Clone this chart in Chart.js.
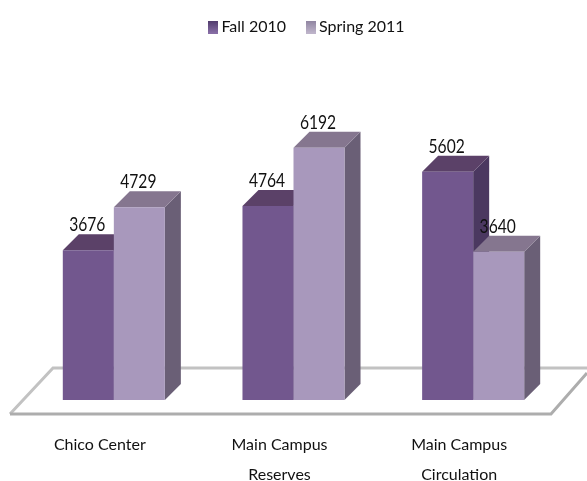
<!DOCTYPE html>
<html>
<head>
<meta charset="utf-8">
<style>
  html, body { margin: 0; padding: 0; background: #fff; }
  #wrap { width: 587px; height: 481px; }
</style>
<script src="https://cdn.jsdelivr.net/npm/chart.js@4"></script>
</head>
<body>
<div id="wrap"><canvas id="chart" width="587" height="481"></canvas></div>
<script>
const categories = [['Chico Center'], ['Main Campus', 'Reserves'], ['Main Campus', 'Circulation']];
const fall2010 = [3676, 4764, 5602];
const spring2011 = [4729, 6192, 3640];

const fontName = 'Lato, sans-serif';
const depth = 16;

// little gradient squares for the legend
function swatch(top, bottom) {
    const c = document.createElement('canvas');
    c.width = 10;
    c.height = 13;
    const g = c.getContext('2d');
    const grad = g.createLinearGradient(0, 0, 0, 13);
    grad.addColorStop(0, top);
    grad.addColorStop(1, bottom);
    g.fillStyle = grad;
    g.fillRect(0, 0, 10, 13);
    return c;
}

function face(ctx, pts, color) {
    ctx.fillStyle = color;
    ctx.beginPath();
    pts.forEach((p, i) => i ? ctx.lineTo(p[0], p[1]) : ctx.moveTo(p[0], p[1]));
    ctx.closePath();
    ctx.fill();
}

// floor and the side/top faces of the bars go under the front faces
const fake3d = {
    id: 'fake3d',
    afterLayout(chart) {
        // legend sits a bit right of centre and high up in the original
        chart.legend.left += 15;
        chart.legend.right += 15;
        chart.legend.top -= 5;
    },
    beforeDatasetsDraw(chart) {
        const ctx = chart.ctx;
        const base = chart.scales.y.getPixelForValue(0);
        const w = chart.width;
        ctx.save();
        ctx.lineWidth = 3;
        ctx.strokeStyle = '#c2c2c2';
        ctx.beginPath();
        ctx.moveTo(w, base - 32);
        ctx.lineTo(53, base - 32);
        ctx.lineTo(10, base + 14);
        ctx.stroke();
        ctx.strokeStyle = '#adadad';
        ctx.beginPath();
        ctx.moveTo(10, base + 14);
        ctx.lineTo(551, base + 14);
        ctx.lineTo(w, base - 27);
        ctx.stroke();

        const sides = ['#4b3860', '#6a5f76'];
        const tops = ['#5b4168', '#85768f'];
        categories.forEach((c, i) => {
            chart.data.datasets.forEach((ds, d) => {
                const bar = chart.getDatasetMeta(d).data[i];
                const l = bar.x - bar.width / 2, r = bar.x + bar.width / 2;
                face(ctx, [[r, bar.y], [r + depth, bar.y - depth], [r + depth, base - depth], [r, base]], sides[d]);
                face(ctx, [[l, bar.y], [l + depth, bar.y - depth], [r + depth, bar.y - depth], [r, bar.y]], tops[d]);
            });
        });
        ctx.restore();
    },
    afterDatasetsDraw(chart) {
        const ctx = chart.ctx;
        ctx.fillStyle = '#111';
        ctx.font = '20px ' + fontName;
        ctx.textAlign = 'center';
        ctx.textBaseline = 'alphabetic';
        chart.data.datasets.forEach((ds, d) => {
            chart.getDatasetMeta(d).data.forEach((bar, i) => {
                // numbers in the original are tall and narrow
                ctx.save();
                ctx.translate(bar.x - 1, bar.y - 19);
                ctx.scale(0.78, 1);
                ctx.fillText(ds.data[i], 0, 0);
                ctx.restore();
            });
        });
    }
};

new Chart(document.getElementById('chart'), {
    type: 'bar',
    data: {
        labels: categories,
        datasets: [
            { label: 'Fall 2010', data: fall2010, backgroundColor: '#72578e', pointStyle: swatch('#4f3a6b', '#8a70a8') },
            { label: 'Spring 2011', data: spring2011, backgroundColor: '#a898bc', pointStyle: swatch('#8f84a0', '#c0b6cc') }
        ]
    },
    plugins: [fake3d],
    options: {
        responsive: false,
        animation: false,
        layout: { padding: { left: 24, right: 24, top: 0, bottom: 0 } },
        categoryPercentage: 0.568,
        barPercentage: 1,
        plugins: {
            tooltip: { enabled: false },
            legend: {
                position: 'top',
                labels: {
                    usePointStyle: true,
                    pointStyleWidth: 1,
                    color: '#111',
                    padding: 24,
                    font: { family: fontName, size: 16 }
                }
            }
        },
        scales: {
            x: {
                grid: { display: false },
                border: { display: false },
                afterFit(scale) { scale.height = 81; },
                ticks: {
                    color: '#111',
                    padding: 22,
                    labelOffset: -14,
                    maxRotation: 0,
                    autoSkip: false,
                    font: { family: fontName, size: 16, lineHeight: 1.875 }
                }
            },
            y: {
                display: false,
                min: 0,
                max: 8590
            }
        }
    }
});
</script>
</body>
</html>
